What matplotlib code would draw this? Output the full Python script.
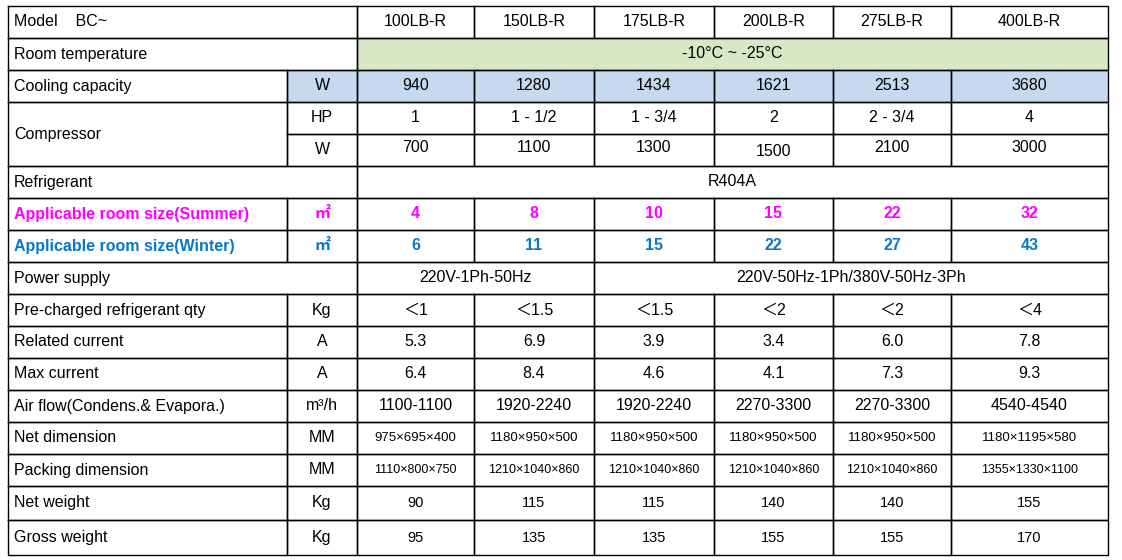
import matplotlib.pyplot as plt

plt.rcParams['font.family'] = ['Liberation Sans', 'Noto Sans CJK SC', 'DejaVu Sans']

models = ['100LB-R', '150LB-R', '175LB-R', '200LB-R', '275LB-R', '400LB-R']
room_temp = '-10°C ~ -25°C'
cooling = ['940', '1280', '1434', '1621', '2513', '3680']
comp_hp = ['1', '1 - 1/2', '1 - 3/4', '2', '2 - 3/4', '4']
comp_w = ['700', '1100', '1300', '1500', '2100', '3000']
refrigerant = 'R404A'
summer = ['4', '8', '10', '15', '22', '32']
winter = ['6', '11', '15', '22', '27', '43']
power = ['220V-1Ph-50Hz', '220V-50Hz-1Ph/380V-50Hz-3Ph']
precharge = ['＜1', '＜1.5', '＜1.5', '＜2', '＜2', '＜4']
related = ['5.3', '6.9', '3.9', '3.4', '6.0', '7.8']
maxcur = ['6.4', '8.4', '4.6', '4.1', '7.3', '9.3']
airflow = ['1100-1100', '1920-2240', '1920-2240', '2270-3300', '2270-3300', '4540-4540']
netdim = ['975×695×400', '1180×950×500', '1180×950×500', '1180×950×500', '1180×950×500', '1180×1195×580']
packdim = ['1110×800×750', '1210×1040×860', '1210×1040×860', '1210×1040×860', '1210×1040×860', '1355×1330×1100']
netw = ['90', '115', '115', '140', '140', '155']
grossw = ['95', '135', '135', '155', '155', '170']

xs = [8, 287, 357, 474, 594, 714, 833, 951, 1108]
ys = [6, 38, 70, 102, 134, 166, 198, 230, 262, 294, 326, 358, 390, 422, 454, 486, 520, 555]

fig = plt.figure(figsize=(11.22, 5.6), dpi=100)
ax = fig.add_axes([0, 0, 1, 1])
ax.set_xlim(0, 1122)
ax.set_ylim(560, 0)
ax.axis('off')

GREEN = '#d6e8c5'
BLUE = '#c6d9ef'
MAG = '#ff00ff'
WBLUE = '#0a78c8'


def cell(c0, c1, r0, r1, txt='', fc=None, ha='center', color='black', size=11.5, bold=False, dy=0):
    x0, x1, y0, y1 = xs[c0], xs[c1], ys[r0], ys[r1]
    if fc:
        ax.add_patch(plt.Rectangle((x0, y0), x1 - x0, y1 - y0, fc=fc, ec='none', zorder=0))
    ax.plot([x0, x1, x1, x0, x0], [y0, y0, y1, y1, y0], color='black', lw=1, zorder=2)
    tx = (x0 + x1) / 2 if ha == 'center' else x0 + 6
    ax.text(tx, (y0 + y1) / 2 + dy, txt, ha=ha, va='center', color=color, fontsize=size,
            fontweight='bold' if bold else 'normal', zorder=3)


def row(r, label, unit, vals, fc=None, color='black', size=11.5, bold=False, lcolor='black'):
    if unit is None:
        cell(0, 2, r, r + 1, label, ha='left', color=lcolor, bold=bold)
    else:
        cell(0, 1, r, r + 1, label, ha='left', color=lcolor, bold=bold)
        cell(1, 2, r, r + 1, unit, fc=fc, color=color, bold=bold)
    for i, v in enumerate(vals):
        cell(2 + i, 3 + i, r, r + 1, v, fc=fc, color=color, size=size, bold=bold)


row(0, 'Model    BC~', None, models)
cell(0, 2, 1, 2, 'Room temperature', ha='left')
cell(2, 8, 1, 2, room_temp, fc=GREEN)
row(2, 'Cooling capacity', 'W', cooling, fc=BLUE)
cell(0, 1, 3, 5, 'Compressor', ha='left')
cell(1, 2, 3, 4, 'HP')
cell(1, 2, 4, 5, 'W')
for i in range(6):
    cell(2 + i, 3 + i, 3, 4, comp_hp[i])
    cell(2 + i, 3 + i, 4, 5, comp_w[i], dy=2 if i == 3 else -2)
cell(0, 2, 5, 6, 'Refrigerant', ha='left')
cell(2, 8, 5, 6, refrigerant)
row(6, 'Applicable room size(Summer)', '㎡', summer, color=MAG, bold=True, lcolor=MAG)
row(7, 'Applicable room size(Winter)', '㎡', winter, color=WBLUE, bold=True, lcolor=WBLUE)
cell(0, 2, 8, 9, 'Power supply', ha='left')
cell(2, 4, 8, 9, power[0])
cell(4, 8, 8, 9, power[1])
row(9, 'Pre-charged refrigerant qty', 'Kg', precharge)
row(10, 'Related current', 'A', related)
row(11, 'Max current', 'A', maxcur)
row(12, 'Air flow(Condens.& Evapora.)', 'm³/h', airflow)
row(13, 'Net dimension', 'MM', netdim, size=9.5)
row(14, 'Packing dimension', 'MM', packdim, size=9)
row(15, 'Net weight', 'Kg', netw, size=10.5)
row(16, 'Gross weight', 'Kg', grossw, size=10.5)

fig.savefig('out.png', dpi=100)
